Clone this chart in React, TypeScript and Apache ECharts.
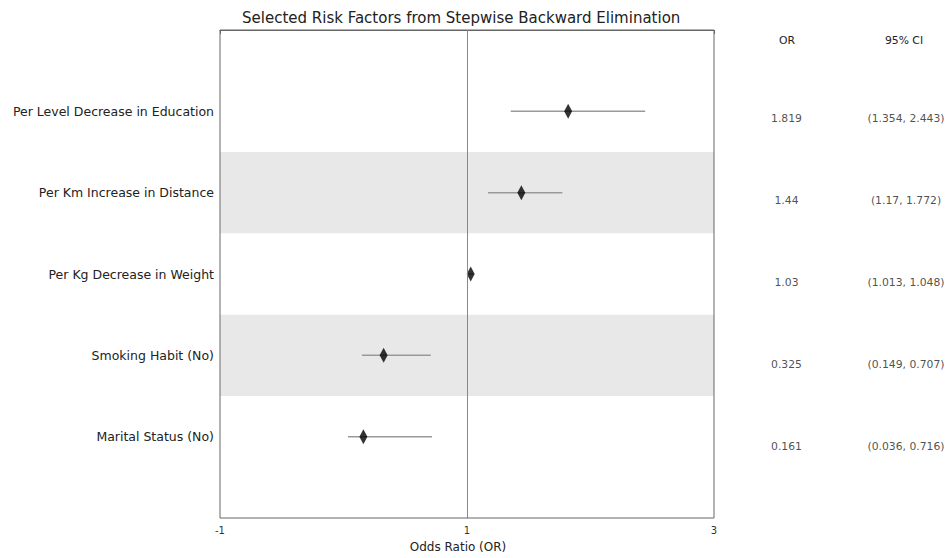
import React, { useEffect, useRef } from "react";
import * as echarts from "echarts";

const factors = [
  "Per Level Decrease in Education",
  "Per Km Increase in Distance",
  "Per Kg Decrease in Weight",
  "Smoking Habit (No)",
  "Marital Status (No)",
];
const oddsRatios = [1.819, 1.44, 1.03, 0.325, 0.161];
const ciLower = [1.354, 1.17, 1.013, 0.149, 0.036];
const ciUpper = [2.443, 1.772, 1.048, 0.707, 0.716];
const xTicks = [-1, 1, 3];
const shadedRows = [2, 4];

const FONT = "DejaVu Sans";

export default function App() {
  const ref = useRef<HTMLDivElement>(null);
  useEffect(() => {
    if (!ref.current) return;
    const chart = echarts.init(ref.current, undefined, { renderer: "svg" });
    const rowIdx = factors.map((_, i) => i + 1);
    chart.setOption({
      animation: false,
      textStyle: { fontFamily: FONT },
      title: {
        text: "Selected Risk Factors from Stepwise Backward Elimination",
        left: 242,
        top: 10,
        padding: 0,
        textStyle: { fontSize: 15, fontWeight: "normal", color: "#222", fontFamily: FONT },
      },
      grid: [
        {
          left: 220,
          width: 494,
          top: 30,
          height: 492,
          show: true,
          z: 10,
          backgroundColor: "transparent",
          borderColor: "#666",
          borderWidth: 1,
        },
        { left: 786.5, width: 119.5, top: 30, height: 492 },
      ],
      xAxis: [
        {
          type: "value",
          gridIndex: 0,
          min: xTicks[0],
          max: xTicks[xTicks.length - 1],
          interval: xTicks[1] - xTicks[0],
          axisLine: { show: true, lineStyle: { color: "#666" } },
          axisTick: { show: true, length: 4, lineStyle: { color: "#666" } },
          axisLabel: { fontSize: 10, color: "#333", margin: 7, fontFamily: FONT },
          splitLine: { show: false },
          name: "Odds Ratio (OR)",
          nameLocation: "middle",
          nameGap: 23,
          nameTextStyle: { fontSize: 12, color: "#222", fontFamily: FONT, padding: [0, 18, 0, 0] },
        },
        { type: "value", gridIndex: 1, min: 0, max: 1, show: false },
      ],
      yAxis: [
        {
          type: "value",
          gridIndex: 0,
          min: 0,
          max: factors.length + 1,
          interval: 1,
          inverse: true,
          axisLine: { show: false },
          axisTick: { show: false },
          splitLine: { show: false },
          axisLabel: {
            fontSize: 12.5,
            color: "#222",
            margin: 6,
            fontFamily: FONT,
            formatter: (v: number) => factors[v - 1] ?? "",
          },
        },
        {
          type: "value",
          gridIndex: 1,
          min: 0,
          max: factors.length + 1,
          inverse: true,
          show: false,
        },
      ],
      graphic: [
        {
          type: "text",
          x: 787,
          y: 40,
          style: { text: "OR", fontSize: 10.8, fill: "#222", fontFamily: FONT, align: "center", verticalAlign: "middle" },
        },
        {
          type: "text",
          x: 904,
          y: 40,
          style: { text: "95% CI", fontSize: 10.8, fill: "#222", fontFamily: FONT, align: "center", verticalAlign: "middle" },
        },
      ],
      series: [
        {
          type: "scatter",
          xAxisIndex: 0,
          yAxisIndex: 0,
          data: [],
          z: 1,
          silent: true,
          markArea: {
            silent: true,
            itemStyle: { color: "#e8e8e8" },
            data: shadedRows.map((r) => [{ yAxis: r - 0.5 }, { yAxis: r + 0.5 }]),
          },
        },
        {
          type: "custom",
          xAxisIndex: 0,
          yAxisIndex: 0,
          z: 3,
          silent: true,
          data: rowIdx.map((r, i) => [ciLower[i], ciUpper[i], r]),
          renderItem: (params: any, api: any) => {
            const p1 = api.coord([api.value(0), api.value(2)]);
            const p2 = api.coord([api.value(1), api.value(2)]);
            return {
              type: "line",
              shape: { x1: p1[0], y1: p1[1], x2: p2[0], y2: p2[1] },
              style: { stroke: "#999", lineWidth: 1.5 },
            };
          },
          encode: { x: [0, 1], y: 2 },
        },
        {
          type: "scatter",
          xAxisIndex: 0,
          yAxisIndex: 0,
          z: 4,
          symbol: "diamond",
          symbolSize: [8, 15],
          itemStyle: { color: "#000" },
          data: rowIdx.map((r, i) => [oddsRatios[i], r]),
          markLine: {
            silent: true,
            symbol: "none",
            label: { show: false },
            lineStyle: { color: "#888", type: "solid", width: 1 },
            data: [{ xAxis: 1 }],
          },
        },
        {
          type: "scatter",
          xAxisIndex: 1,
          yAxisIndex: 1,
          symbolSize: 0,
          silent: true,
          data: rowIdx.map((r, i) => [0, r, String(oddsRatios[i])]),
          label: {
            show: true,
            position: "inside",
            offset: [0, 6],
            fontSize: 10.8,
            color: "#222",
            fontFamily: FONT,
            formatter: (p: any) => p.data[2],
          },
        },
        {
          type: "scatter",
          xAxisIndex: 1,
          yAxisIndex: 1,
          symbolSize: 0,
          silent: true,
          data: rowIdx.map((r, i) => [1, r, `(${ciLower[i]}, ${ciUpper[i]})`]),
          label: {
            show: true,
            position: "inside",
            offset: [0, 6],
            fontSize: 10.8,
            color: "#222",
            fontFamily: FONT,
            formatter: (p: any) => p.data[2],
          },
        },
      ],
    });
    return () => chart.dispose();
  }, []);
  return <div ref={ref} style={{ width: 947, height: 558, position: "fixed", left: 0, top: 0, background: "#fff" }} />;
}
